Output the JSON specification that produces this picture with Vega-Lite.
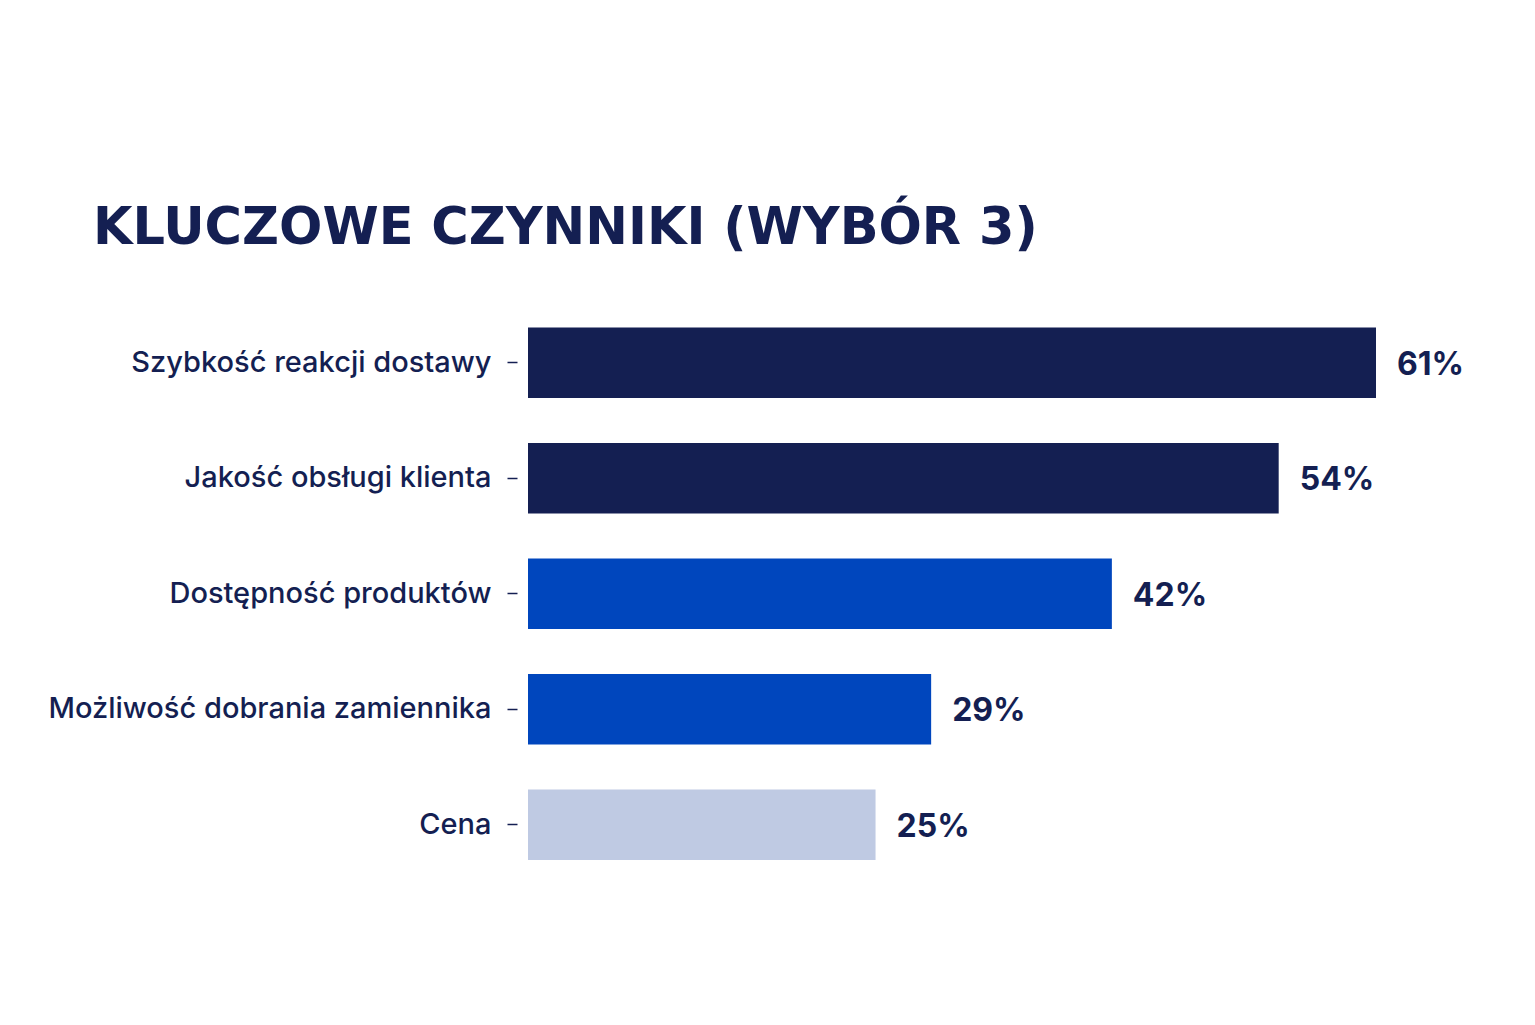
{
  "$schema": "https://vega.github.io/schema/vega-lite/v6.json",
  "autosize": "none",
  "width": 848,
  "height": 577.5,
  "padding": {"left": 528, "top": 305, "right": 159, "bottom": 142},
  "background": "white",
  "title": {
    "text": "KLUCZOWE CZYNNIKI (WYBÓR 3)",
    "anchor": "start",
    "frame": "group",
    "dx": -435,
    "offset": 10,
    "baseline": "alphabetic",
    "font": "DejaVu Sans",
    "fontSize": 51,
    "fontWeight": "bold",
    "color": "#141f52"
  },
  "data": {
    "values": [
      {"factor": "Szybkość reakcji dostawy", "share": 0.61},
      {"factor": "Jakość obsługi klienta", "share": 0.54},
      {"factor": "Dostępność produktów", "share": 0.42},
      {"factor": "Możliwość dobrania zamiennika", "share": 0.29},
      {"factor": "Cena", "share": 0.25}
    ]
  },
  "encoding": {
    "y": {
      "field": "factor",
      "type": "nominal",
      "sort": null,
      "scale": {"paddingInner": 0.39, "paddingOuter": 0.195},
      "axis": {
        "title": null,
        "domain": false,
        "ticks": true,
        "tickSize": 10,
        "tickColor": "#141f52",
        "tickWidth": 1.5,
        "offset": 11,
        "labelPadding": 16,
        "labelFont": "Inter",
        "labelFontSize": 29,
        "labelFontWeight": 500,
        "labelColor": "#141f52",
        "labelLimit": 600
      }
    },
    "x": {
      "field": "share",
      "type": "quantitative",
      "scale": {"domain": [0, 0.61], "nice": false, "zero": true},
      "axis": null
    }
  },
  "layer": [
    {
      "mark": {"type": "bar"},
      "encoding": {
        "color": {
          "field": "factor",
          "type": "nominal",
          "scale": {
            "domain": ["Szybkość reakcji dostawy", "Jakość obsługi klienta", "Dostępność produktów", "Możliwość dobrania zamiennika", "Cena"],
            "range": ["#141f52", "#141f52", "#0046bd", "#0046bd", "#bfcae3"]
          },
          "legend": null
        }
      }
    },
    {
      "mark": {"type": "text", "align": "left", "baseline": "middle", "dx": 21, "dy": 2, "font": "Inter", "fontSize": 32, "fontWeight": "bold", "color": "#141f52"},
      "encoding": {
        "text": {"field": "share", "type": "quantitative", "format": ".0%"}
      }
    }
  ],
  "config": {"view": {"stroke": null}}
}
